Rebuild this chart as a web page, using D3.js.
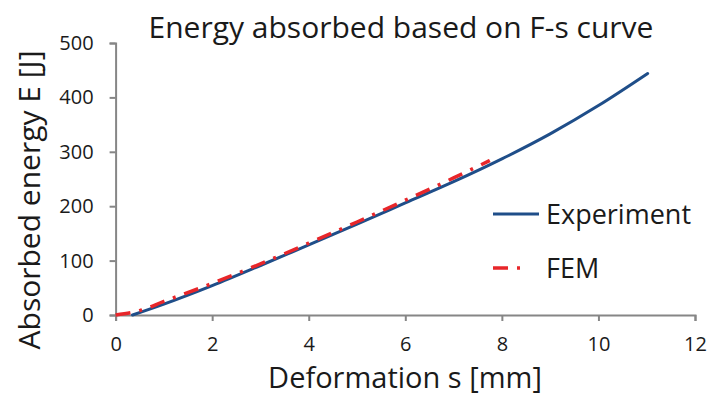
<!DOCTYPE html>
<html>
<head>
<meta charset="utf-8">
<script src="https://cdn.jsdelivr.net/npm/d3@7"></script>
<style>
  body { margin: 0; background: #fff; }
  svg { display: block; font-family: 'Open Sans', sans-serif; }
</style>
</head>
<body>
<div id="chart"></div>
<script>
// chart data
const expS = [0.35, 1, 2, 3, 4, 5, 6, 7, 8, 9, 10, 11.02];
const expE = [0, 20, 54, 91, 129, 167, 206, 245, 287, 333, 385, 444];
const femS = [0, 0.5, 1, 2, 3, 4, 5, 6, 7, 7.75];
const femE = [0, 8, 25, 58, 94, 132, 171, 211, 252, 284];
const xTicks = [0, 2, 4, 6, 8, 10, 12];
const yTicks = [0, 100, 200, 300, 400, 500];
const seriesNames = ['Experiment', 'FEM'];

const WIDTH = 723;
const HEIGHT = 396;
const AXIS_COLOR = '#868686';
const TEXT_COLOR = '#1a1a1a';
const EXP_COLOR = '#1f4e89';
const FEM_COLOR = '#e8262a';
const FEM_DASH = '15,9,3,9';

const margin = { top: 43, right: 28, bottom: 81, left: 115.6 };

const svg = d3.select('#chart')
  .append('svg')
  .attr('width', WIDTH)
  .attr('height', HEIGHT);

const xScale = d3.scaleLinear()
  .domain([0, 12])
  .range([margin.left, WIDTH - margin.right]);

const yScale = d3.scaleLinear()
  .domain([0, 500])
  .range([HEIGHT - margin.bottom, margin.top]);

// title
svg.append('text')
  .attr('x', 401)
  .attr('y', 38)
  .attr('text-anchor', 'middle')
  .style('font-size', '30px')
  .style('fill', TEXT_COLOR)
  .text('Energy absorbed based on F-s curve');

// x axis
const xAxis = svg.append('g')
  .attr('transform', `translate(0,${yScale(0)})`)
  .call(d3.axisBottom(xScale).tickValues(xTicks).tickSize(6).tickPadding(16).tickSizeOuter(6));

// y axis
const yAxis = svg.append('g')
  .attr('transform', `translate(${xScale(0)},0)`)
  .call(d3.axisLeft(yScale).tickValues(yTicks).tickSize(6).tickPadding(16).tickSizeOuter(6));

[xAxis, yAxis].forEach((g) => {
  g.selectAll('path, line')
    .attr('stroke', AXIS_COLOR)
    .attr('stroke-width', 2);
  g.selectAll('text')
    .style('font-size', '20px')
    .style('font-family', "'Open Sans', sans-serif")
    .style('fill', TEXT_COLOR);
});

// axis labels
svg.append('text')
  .attr('x', 405)
  .attr('y', 388)
  .attr('text-anchor', 'middle')
  .style('font-size', '29px')
  .style('fill', TEXT_COLOR)
  .text('Deformation s [mm]');

svg.append('text')
  .attr('transform', 'translate(40,200) rotate(-90)')
  .attr('text-anchor', 'middle')
  .style('font-size', '30px')
  .style('fill', TEXT_COLOR)
  .text('Absorbed energy E [J]');

// lines
const line = d3.line()
  .curve(d3.curveMonotoneX)
  .x((d) => xScale(d[0]))
  .y((d) => yScale(d[1]));

svg.append('path')
  .datum(expS.map((s, i) => [s, expE[i]]))
  .attr('fill', 'none')
  .attr('stroke', EXP_COLOR)
  .attr('stroke-width', 3)
  .attr('stroke-linecap', 'round')
  .attr('d', line);

svg.append('path')
  .datum(femS.map((s, i) => [s, femE[i]]))
  .attr('fill', 'none')
  .attr('stroke', FEM_COLOR)
  .attr('stroke-width', 3.5)
  .attr('stroke-dasharray', FEM_DASH)
  .attr('d', line);

// legend
const legend = svg.append('g').attr('transform', 'translate(493,0)');

legend.append('line')
  .attr('x1', 0).attr('x2', 46)
  .attr('y1', 214).attr('y2', 214)
  .attr('stroke', EXP_COLOR)
  .attr('stroke-width', 3);

legend.append('line')
  .attr('x1', 0).attr('x2', 36)
  .attr('y1', 268).attr('y2', 268)
  .attr('stroke', FEM_COLOR)
  .attr('stroke-width', 3.5)
  .attr('stroke-dasharray', FEM_DASH);

legend.selectAll('text.leg')
  .data(seriesNames)
  .enter()
  .append('text')
  .attr('class', 'leg')
  .attr('x', 53)
  .attr('y', (d, i) => 224 + i * 54)
  .style('font-size', '27px')
  .style('fill', TEXT_COLOR)
  .text((d) => d);
</script>
</body>
</html>
